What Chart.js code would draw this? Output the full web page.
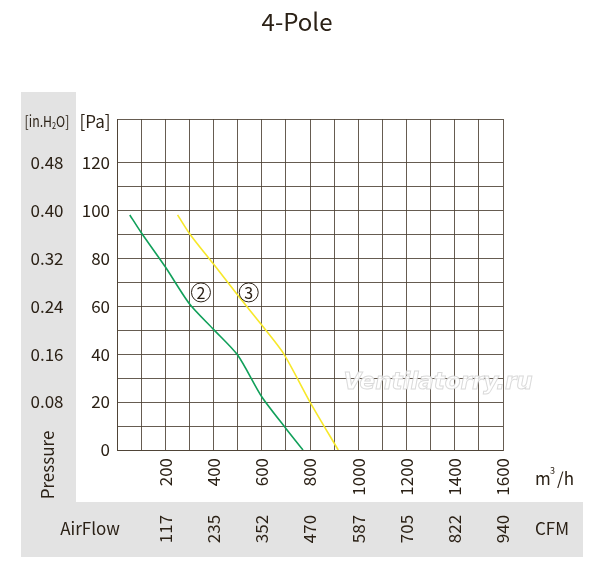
<!DOCTYPE html>
<html>
<head>
<meta charset="utf-8">
<script src="https://cdn.jsdelivr.net/npm/chart.js@4/dist/chart.umd.min.js"></script>
<style>
  html, body { margin: 0; padding: 0; background: #fff; }
  canvas { display: block; }
</style>
</head>
<body>
<canvas id="fanChart" width="600" height="570"></canvas>
<script>
// curve 2 (green) and curve 3 (yellow): airflow m3/h vs pressure Pa
const curve2Flow = [53, 100, 200, 300, 400, 500, 600, 700, 771];
const curve2Pa   = [98, 90.7, 76.4, 61, 50.3, 39.6, 22.2, 9, 0];
const curve3Flow = [251, 300, 400, 500, 600, 690, 800, 917];
const curve3Pa   = [98, 90.3, 77.5, 64.6, 52.1, 40.3, 20, 0];

// tick labels
const flowTicks = [200, 400, 600, 800, 1000, 1200, 1400, 1600];
const cfmLabels = ['117', '235', '352', '470', '587', '705', '822', '940'];
const paTicks = [0, 20, 40, 60, 80, 100, 120];
const inH2OLabels = ['', '0.08', '0.16', '0.24', '0.32', '0.40', '0.48'];

// curve markers (circled numbers)
const markers = [
    { text: '2', x: 348, y: 65.7 },
    { text: '3', x: 546, y: 65.7 }
];

const FONT = "'Noto Sans CJK SC', 'Noto Sans', sans-serif";
const INK = '#2b2116';

const toPoints = (xs, ys) => xs.map((x, i) => ({ x: x, y: ys[i] }));

const decorPlugin = {
    id: 'decor',
    beforeDraw(chart) {
        const ctx = chart.ctx;
        ctx.save();
        ctx.fillStyle = '#fff';
        ctx.fillRect(0, 0, chart.width, chart.height);
        // grey panels
        ctx.fillStyle = '#e3e3e3';
        ctx.fillRect(21, 92, 55, 410);
        ctx.fillRect(21, 502, 562, 55);
        ctx.restore();
    },
    beforeDatasetsDraw(chart) {
        // watermark
        const ctx = chart.ctx;
        ctx.save();
        ctx.font = "italic bold 23px 'DejaVu Sans', sans-serif";
        ctx.textAlign = 'center';
        ctx.textBaseline = 'middle';
        ctx.lineWidth = 1;
        ctx.strokeStyle = 'rgba(205,205,205,0.75)';
        ctx.fillStyle = 'rgba(255,255,255,0.9)';
        ctx.fillText('Ventilatorry.ru', 438, 383);
        ctx.strokeText('Ventilatorry.ru', 438, 383);
        ctx.restore();
    },
    afterDraw(chart) {
        const ctx = chart.ctx;
        const xs = chart.scales.x;
        const ys = chart.scales.y;
        ctx.save();
        ctx.fillStyle = INK;
        ctx.textBaseline = 'middle';
        ctx.textAlign = 'center';

        // title
        ctx.font = '24px ' + FONT;
        ctx.fillText('4-Pole', 297, 22);

        // unit labels
        ctx.font = '17px ' + FONT;
        ctx.fillText('[Pa]', 95, 122);

        ctx.textAlign = 'left';
        ctx.fillText('m', 535, 479);
        ctx.fillText('/h', 557, 479);
        ctx.font = '9px ' + FONT;
        ctx.fillText('3', 550, 471);

        // [in.H2O]
        ctx.save();
        ctx.translate(47, 121);
        ctx.scale(0.82, 1);
        const a = '[in.H', b = 'O]';
        ctx.font = '15px ' + FONT;
        const wa = ctx.measureText(a).width;
        const wb = ctx.measureText(b).width;
        ctx.font = '9px ' + FONT;
        const ws = ctx.measureText('2').width;
        let x0 = -(wa + ws + wb) / 2;
        ctx.font = '15px ' + FONT;
        ctx.fillText(a, x0, 0);
        ctx.font = '9px ' + FONT;
        ctx.fillText('2', x0 + wa, 5);
        ctx.font = '15px ' + FONT;
        ctx.fillText(b, x0 + wa + ws, 0);
        ctx.restore();

        // in.H2O column
        ctx.textAlign = 'center';
        ctx.font = '17px ' + FONT;
        paTicks.forEach((p, i) => {
            if (inH2OLabels[i]) ctx.fillText(inH2OLabels[i], 47, ys.getPixelForValue(p));
        });

        // Pressure (rotated)
        ctx.save();
        ctx.translate(48, 465);
        ctx.rotate(-Math.PI / 2);
        ctx.fillText('Pressure', 0, 0);
        ctx.restore();

        // AirFlow row
        ctx.fillText('AirFlow', 90, 529);
        ctx.fillText('CFM', 552, 529);
        flowTicks.forEach((f, i) => {
            ctx.save();
            ctx.translate(xs.getPixelForValue(f), 529);
            ctx.rotate(-Math.PI / 2);
            ctx.fillText(cfmLabels[i], 0, 0);
            ctx.restore();
        });

        // circled curve numbers
        markers.forEach(m => {
            const px = xs.getPixelForValue(m.x);
            const py = ys.getPixelForValue(m.y);
            ctx.fillStyle = '#fff';
            ctx.beginPath();
            ctx.arc(px, py, 9.5, 0, Math.PI * 2);
            ctx.fill();
            ctx.strokeStyle = INK;
            ctx.lineWidth = 1;
            ctx.stroke();
            ctx.fillStyle = INK;
            ctx.font = '16px ' + FONT;
            ctx.fillText(m.text, px, py + 0.5);
        });
        ctx.restore();
    }
};

const gridColor = 'rgba(75, 64, 50, 0.85)';

new Chart(document.getElementById('fanChart'), {
    type: 'scatter',
    data: {
        datasets: [
            {
                label: '2',
                data: toPoints(curve2Flow, curve2Pa),
                showLine: true,
                borderColor: '#11a05a',
                borderWidth: 1.6,
                pointRadius: 0,
                tension: 0.25
            },
            {
                label: '3',
                data: toPoints(curve3Flow, curve3Pa),
                showLine: true,
                borderColor: '#f7e82a',
                borderWidth: 1.6,
                pointRadius: 0,
                tension: 0.25
            }
        ]
    },
    options: {
        responsive: false,
        animation: false,
        devicePixelRatio: 1,
        layout: { padding: { left: 61, right: 97, top: 119, bottom: 60 } },
        plugins: {
            legend: { display: false },
            tooltip: { enabled: false }
        },
        scales: {
            x: {
                type: 'linear',
                min: 0,
                max: 1600,
                afterFit: s => { s.height = 60; },
                grid: { color: gridColor, drawTicks: false },
                border: { color: gridColor },
                ticks: {
                    stepSize: 100,
                    autoSkip: false,
                    minRotation: 90,
                    maxRotation: 90,
                    padding: 8,
                    color: INK,
                    font: { family: FONT, size: 17 },
                    callback: v => flowTicks.includes(v) ? String(v) : ''
                }
            },
            y: {
                min: 0,
                max: 138,
                afterFit: s => { s.width = 56; },
                grid: { color: gridColor, drawTicks: false },
                border: { color: gridColor },
                ticks: {
                    stepSize: 10,
                    autoSkip: false,
                    padding: 7,
                    color: INK,
                    font: { family: FONT, size: 17 },
                    callback: v => paTicks.includes(v) ? String(v) : ''
                }
            }
        }
    },
    plugins: [decorPlugin]
});
</script>
</body>
</html>
